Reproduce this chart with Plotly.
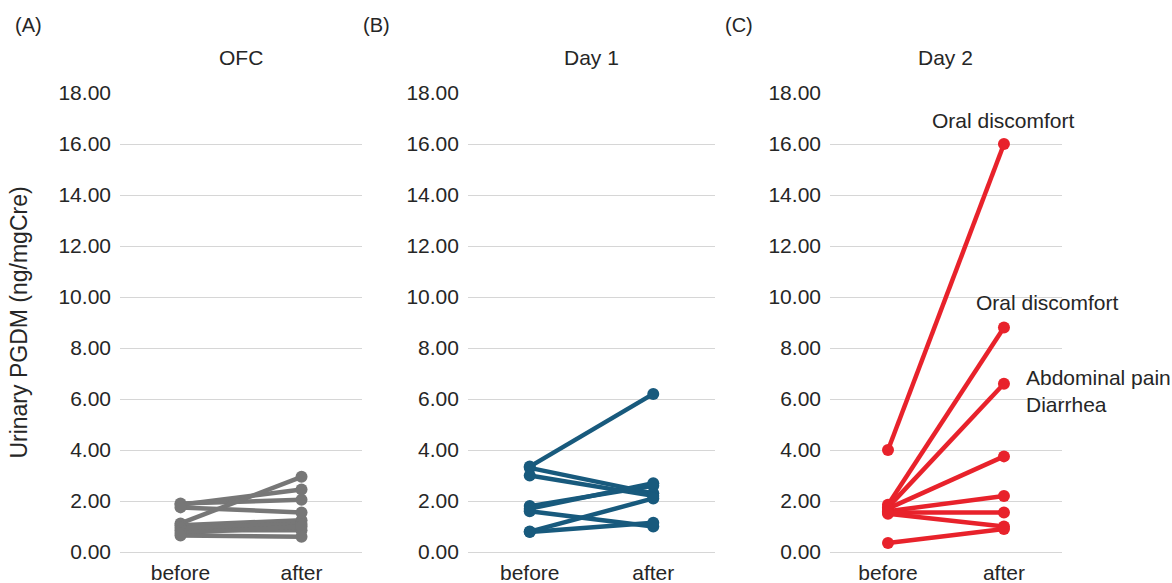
import plotly.graph_objects as go

# Urinary PGDM (ng/mgCre) before and after challenge, one line per subject
timepoints = ["before", "after"]

ofc_before = [1.90, 1.85, 1.75, 1.12, 1.05, 0.95, 0.85, 0.75, 0.65]
ofc_after = [2.05, 2.45, 1.55, 2.95, 1.25, 1.10, 0.85, 1.00, 0.60]

day1_before = [3.35, 3.30, 3.00, 1.80, 1.70, 1.60, 0.80, 0.78]
day1_after = [6.20, 2.30, 2.20, 2.60, 2.70, 1.00, 2.10, 1.15]

day2_before = [4.00, 1.85, 1.75, 1.70, 1.60, 1.55, 1.50, 0.35]
day2_after = [16.00, 8.80, 6.60, 3.75, 2.20, 1.55, 1.00, 0.90]

panel_titles = ["OFC", "Day 1", "Day 2"]
panel_letters = ["(A)", "(B)", "(C)"]
y_ticks = [0, 2, 4, 6, 8, 10, 12, 14, 16, 18]

symptom_notes = [
    (16.00, "Oral discomfort"),
    (8.80, "Oral discomfort"),
    (6.60, "Abdominal pain<br>Diarrhea"),
]

FONT = "Liberation Sans, Arial, sans-serif"
TEXT = "#262626"
GRID = "#d6d6d6"
FS = 21

panels = [
    (ofc_before, ofc_after, "#777777"),
    (day1_before, day1_after, "#185a7d"),
    (day2_before, day2_after, "#e8222b"),
]
x_domains = [[0.1024, 0.3089], [0.3993, 0.6101], [0.7082, 0.9061]]
y_domain = [31 / 583, 490 / 583]

fig = go.Figure()
layout = dict(
    width=1172,
    height=583,
    margin=dict(l=0, r=0, t=0, b=0, autoexpand=False),
    paper_bgcolor="white",
    plot_bgcolor="white",
    showlegend=False,
    font=dict(family=FONT, size=FS, color=TEXT),
    annotations=[],
)

for i, (before, after, color) in enumerate(panels):
    n = "" if i == 0 else str(i + 1)
    for b, a in zip(before, after):
        fig.add_trace(go.Scatter(
            x=timepoints, y=[b, a],
            mode="lines+markers",
            line=dict(color=color, width=4.5),
            marker=dict(color=color, size=12),
            cliponaxis=False,
            xaxis="x" + n, yaxis="y" + n,
            hoverinfo="skip",
        ))
    layout["xaxis" + n] = dict(
        domain=x_domains[i], anchor="y" + n,
        type="category", range=[-0.5, 1.5],
        showgrid=False, zeroline=False, showline=False, ticks="",
        automargin=False, ticklabelstandoff=6,
        tickfont=dict(size=FS, color=TEXT, family=FONT),
    )
    layout["yaxis" + n] = dict(
        domain=y_domain, anchor="x" + n,
        range=[0, 18], tickvals=y_ticks,
        tickformat=".2f",
        showgrid=True, gridcolor=GRID, gridwidth=1.2,
        zeroline=True, zerolinecolor=GRID, zerolinewidth=1.2,
        showline=False, ticks="",
        automargin=False, ticklabelstandoff=8,
        tickfont=dict(size=FS, color=TEXT, family=FONT),
    )
    xc = (x_domains[i][0] + x_domains[i][1]) / 2
    layout["annotations"].append(dict(
        text=panel_titles[i], x=xc, y=1 - 57 / 583,
        xref="paper", yref="paper", showarrow=False,
        xanchor="center", yanchor="middle",
        font=dict(size=FS, color=TEXT, family=FONT),
    ))
    layout["annotations"].append(dict(
        text=panel_letters[i], x=x_domains[i][0] - 0.091, y=1 - 25 / 583,
        xref="paper", yref="paper", showarrow=False,
        xanchor="left", yanchor="middle",
        font=dict(size=FS - 1, color=TEXT, family=FONT),
    ))

layout["yaxis"]["title"] = dict(
    text="Urinary PGDM (ng/mgCre)", standoff=24,
    font=dict(size=23, color=TEXT, family=FONT),
)

# symptom labels beside the Day 2 responders
note_pos = [(0, 24, "center"), (44, 25, "center"), (20, -7, "left")]
for (val, txt), (dx, dy, anchor) in zip(symptom_notes, note_pos):
    layout["annotations"].append(dict(
        text=txt, x=1, y=val, xref="x3", yref="y3",
        showarrow=False, xshift=dx, yshift=dy,
        xanchor=anchor, yanchor="middle", align="left",
        font=dict(size=FS, color=TEXT, family=FONT),
    ))

fig.update_layout(**layout)
fig.write_html("out.html")
